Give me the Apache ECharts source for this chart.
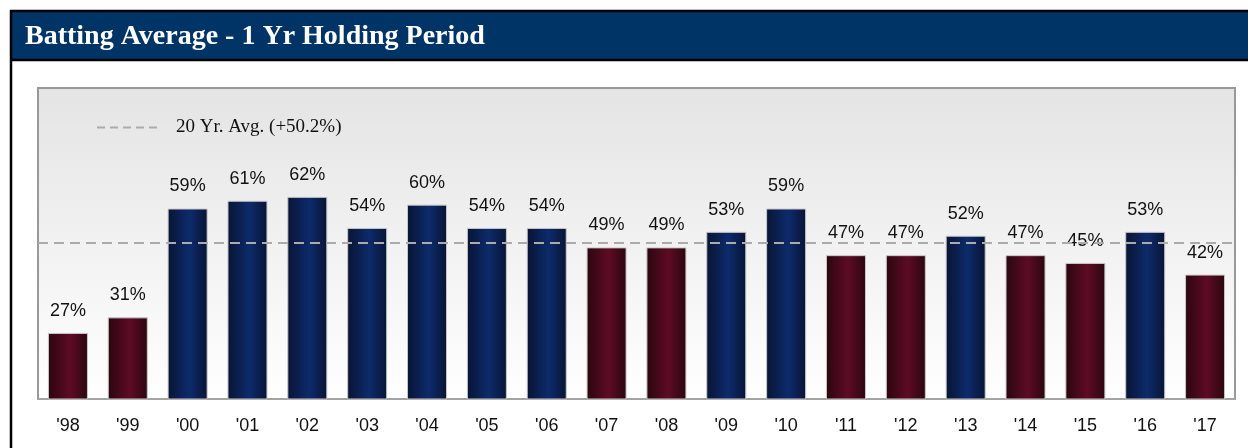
<!DOCTYPE html>
<html>
	<head>
		<meta charset="UTF-8">
		<title>Batting Average - 1 Yr Holding Period</title>
		<style>
			html, body { margin: 0; padding: 0; background: #fff; }
			#box { width: 1248px; height: 448px; }
		</style>
	</head>
	<body>
		<div id="box"></div>

		<script type="text/javascript" src="https://cdn.jsdelivr.net/npm/echarts@6/dist/echarts.min.js"></script>
		<script type="text/javascript">
			// data
			var years = ["'98", "'99", "'00", "'01", "'02", "'03", "'04", "'05", "'06", "'07",
				"'08", "'09", "'10", "'11", "'12", "'13", "'14", "'15", "'16", "'17"];
			var hitRate = [27, 31, 59, 61, 62, 54, 60, 54, 54, 49, 49, 53, 59, 47, 47, 52, 47, 45, 53, 42];
			var avg20 = 50.2;
			var avgName = '20 Yr. Avg. (+50.2%)';

			var sans = '"Liberation Sans", Arial, sans-serif';

			var box = document.getElementById('box');
			var myechart = echarts.init(box);

			function barGrad(edge, mid) {
				return new echarts.graphic.LinearGradient(0, 0, 1, 0, [
					{ offset: 0, color: edge },
					{ offset: 0.55, color: mid },
					{ offset: 1, color: edge }
				]);
			}
			var redFill = barGrad('#2a0610', '#5e0b25');
			var blueFill = barGrad('#081434', '#0d2b6b');

			// above the average -> blue, below -> maroon
			var barData = hitRate.map(function (v) {
				return {
					value: v,
					itemStyle: { color: v >= avg20 ? blueFill : redFill }
				};
			});

			var option = {
				animation: false,
				textStyle: { fontFamily: sans },
				graphic: [
					{ type: 'rect', shape: { x: 10, y: 10, width: 1238, height: 51 }, style: { fill: '#003366' }, z: 0 },
					{ type: 'line', shape: { x1: 10, y1: 11, x2: 1248, y2: 11 }, style: { stroke: '#000', lineWidth: 2.5 } },
					{ type: 'line', shape: { x1: 10, y1: 60, x2: 1248, y2: 60 }, style: { stroke: '#000', lineWidth: 2.5 } },
					{ type: 'line', shape: { x1: 11, y1: 10, x2: 11, y2: 448 }, style: { stroke: '#000', lineWidth: 2.5 } },
					{
						type: 'text', left: 25, top: 23, z: 10,
						style: {
							text: 'Batting Average - 1 Yr Holding Period',
							fill: '#fff',
							font: 'bold 28px "Liberation Serif", serif'
						}
					}
				],
				legend: {
					left: 91,
					top: 113,
					itemWidth: 64,
					itemHeight: 12,
					itemStyle: { opacity: 0 },
					textStyle: {
						fontFamily: '"Liberation Serif", serif',
						fontSize: 19,
						color: '#111',
						padding: [0, 0, 0, 10]
					},
					data: [avgName]
				},
				grid: {
					left: 38, right: 13, top: 88, bottom: 49,
					show: true,
					borderColor: '#999',
					borderWidth: 2,
					backgroundColor: new echarts.graphic.LinearGradient(0, 0, 0, 1, [
						{ offset: 0, color: '#e4e4e4' },
						{ offset: 1, color: '#ffffff' }
					])
				},
				xAxis: {
					type: 'category',
					data: years,
					axisLine: { lineStyle: { color: '#a3a3a3', width: 2 } },
					axisTick: { length: 7, lineStyle: { color: '#b0b0b0' } },
					axisLabel: { fontSize: 18, color: '#111', margin: 18 }
				},
				yAxis: {
					type: 'value',
					min: 10,
					max: 90,
					show: false,
					splitLine: { show: false }
				},
				series: [{
					name: 'Batting Average',
					type: 'bar',
					barWidth: 40,
					data: barData,
					itemStyle: { borderColor: '#c8c8c8', borderWidth: 1 },
					label: {
						show: true,
						position: 'top',
						distance: 13,
						fontSize: 18,
						color: '#111',
						formatter: function (p) { return p.value + '%'; }
					},
					markLine: {
						silent: true,
						symbol: 'none',
						label: { show: false },
						lineStyle: { color: '#ababab', type: [10, 6], width: 2 },
						data: [{ yAxis: avg20 }]
					}
				}, {
					name: avgName,
					type: 'line',
					symbol: 'none',
					symbolSize: 0,
					data: [],
					lineStyle: { color: '#ababab', type: [8, 5], width: 2 },
					itemStyle: { color: '#ababab' }
				}]
			};

			myechart.setOption(option);
		</script>
	</body>
</html>
